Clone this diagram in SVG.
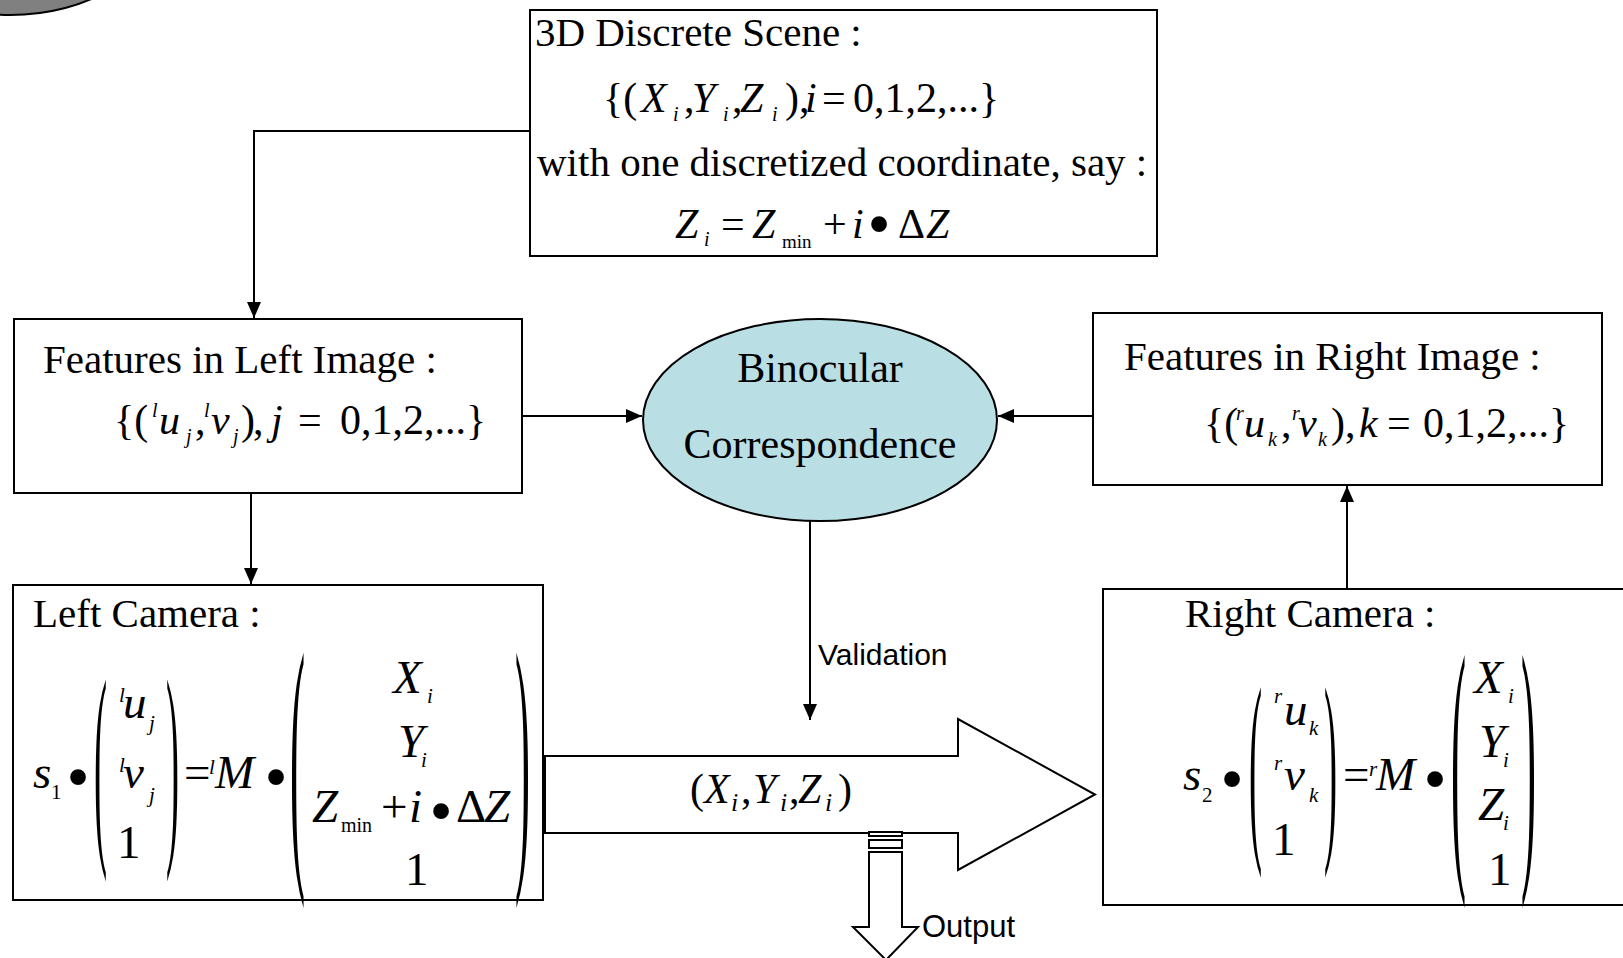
<svg xmlns="http://www.w3.org/2000/svg" width="1623" height="958" viewBox="0 0 1623 958">
<style>
.box{fill:#fff;stroke:#000;stroke-width:2}
.t{font-family:"Liberation Serif",serif;font-size:41px;fill:#000}
.f{font-family:"Liberation Serif",serif;font-size:42px;fill:#000}
.mx{font-family:"Liberation Serif",serif;font-size:47px;fill:#000}
.i{font-style:italic}
.s{font-size:20px}
.ss{font-size:21px}
.a{font-family:"Liberation Sans",sans-serif;fill:#000}
.bul{font-family:"Liberation Serif",serif;font-size:66px;text-anchor:middle}
.pl{font-family:"Liberation Serif",serif;font-size:28px}
.pb{font-family:"Liberation Serif",serif;font-size:30px}
.ln{fill:none;stroke:#000;stroke-width:2}
</style>
<defs>
<marker id="ah" markerUnits="userSpaceOnUse" markerWidth="16" markerHeight="14" refX="16" refY="7" orient="auto">
<path d="M0,0 L16,7 L0,14 Z" fill="#000"/>
</marker>
</defs>
<rect width="1623" height="958" fill="#fff"/>
<ellipse cx="10" cy="-85" rx="150" ry="100" fill="#808080" stroke="#000" stroke-width="2"/>

<g id="connectors">
<path class="ln" d="M530,131 H254 V318" marker-end="url(#ah)"/>
<path class="ln" d="M522,416 H642" marker-end="url(#ah)"/>
<path class="ln" d="M1093,416 H998" marker-end="url(#ah)"/>
<path class="ln" d="M251,493 V584" marker-end="url(#ah)"/>
<path class="ln" d="M1347,589 V486" marker-end="url(#ah)"/>
<path class="ln" d="M810,521 V720" marker-end="url(#ah)"/>
<text class="a" x="818" y="665" font-size="30">Validation</text>
</g>

<g id="scene">
<rect class="box" x="530" y="10" width="627" height="246"/>
<text class="t" x="535" y="46">3D Discrete Scene :</text>
<text class="f" y="112"><tspan x="603">{(</tspan><tspan x="641" class="i">X</tspan><tspan x="673" y="121" class="i s">i</tspan><tspan x="684" y="112">,</tspan><tspan x="692" class="i">Y</tspan><tspan x="723" y="121" class="i s">i</tspan><tspan x="732" y="112">,</tspan><tspan x="740" class="i">Z</tspan><tspan x="772" y="121" class="i s">i</tspan><tspan x="785" y="112">),</tspan><tspan x="805" class="i">i</tspan><tspan x="822">=</tspan><tspan x="853">0,1,2,...}</tspan></text>
<text class="t" x="537" y="176">with one discretized coordinate, say :</text>
<text class="f" y="238"><tspan x="675" class="i">Z</tspan><tspan x="704" y="246" class="i s">i</tspan><tspan x="721" y="238">=</tspan><tspan x="752" class="i">Z</tspan><tspan x="782" y="248" font-size="19">min</tspan><tspan x="823" y="238">+</tspan><tspan x="852" class="i">i</tspan><tspan x="898">Δ</tspan><tspan x="926" class="i">Z</tspan></text>
<text class="bul" x="879" y="246">•</text>
</g>

<g id="features-left">
<rect class="box" x="14" y="319" width="508" height="174"/>
<text class="t" x="43" y="373">Features in Left Image :</text>
<text class="f" y="434"><tspan x="114">{(</tspan><tspan x="152" y="417" class="i s">l</tspan><tspan x="159" y="434" class="i">u</tspan><tspan x="186" y="443" class="i s">j</tspan><tspan x="195" y="434">,</tspan><tspan x="204" y="417" class="i s">l</tspan><tspan x="211" y="434" class="i">v</tspan><tspan x="233" y="443" class="i s">j</tspan><tspan x="241" y="434">)</tspan><tspan x="253">,</tspan><tspan x="271" class="i">j</tspan><tspan x="298">=</tspan><tspan x="340">0,1,2,...}</tspan></text>
</g>

<g id="binocular">
<ellipse cx="820" cy="420" rx="177" ry="101" fill="#B9DFE4" stroke="#000" stroke-width="2"/>
<text class="f" x="820" y="382" text-anchor="middle">Binocular</text>
<text class="f" x="820" y="458" text-anchor="middle">Correspondence</text>
</g>

<g id="features-right">
<rect class="box" x="1093" y="313" width="509" height="172"/>
<text class="t" x="1124" y="370">Features in Right Image :</text>
<text class="f" y="437"><tspan x="1204">{(</tspan><tspan x="1236" y="420" class="i s">r</tspan><tspan x="1244" y="437" class="i">u</tspan><tspan x="1268" y="446" class="i s">k</tspan><tspan x="1281" y="437">,</tspan><tspan x="1292" y="420" class="i s">r</tspan><tspan x="1298" y="437" class="i">v</tspan><tspan x="1318" y="446" class="i s">k</tspan><tspan x="1331" y="437">),</tspan><tspan x="1359" class="i">k</tspan><tspan x="1387">=</tspan><tspan x="1423">0,1,2,...}</tspan></text>
</g>

<g id="left-camera">
<rect class="box" x="13" y="585" width="530" height="315"/>
<text class="t" x="33" y="627">Left Camera :</text>
<text class="mx"><tspan x="33" y="788" class="i">s</tspan><tspan x="51" y="799" class="ss">1</tspan></text>
<text class="bul" x="78" y="799">•</text>
<text class="pl" transform="translate(94,833.6) scale(1.4,7.95)">(</text>
<text class="mx"><tspan x="119" y="702" class="i ss">l</tspan><tspan x="123" y="718" class="i">u</tspan><tspan x="149" y="730" class="i ss">j</tspan></text>
<text class="mx"><tspan x="119" y="772" class="i ss">l</tspan><tspan x="123" y="788" class="i">v</tspan><tspan x="149" y="802" class="i ss">j</tspan></text>
<text class="mx" x="117" y="858">1</text>
<text class="pl" transform="translate(166,833.6) scale(1.4,7.95)">)</text>
<text class="mx"><tspan x="184" y="788">=</tspan><tspan x="209" y="774" class="i ss">l</tspan><tspan x="215" y="788" class="i">M</tspan></text>
<text class="bul" x="276" y="799">•</text>
<text class="pb" transform="translate(290,848) scale(1.5,9.38)">(</text>
<text class="mx"><tspan x="393" y="693" class="i">X</tspan><tspan x="427" y="703" class="i ss">i</tspan></text>
<text class="mx"><tspan x="398" y="757" class="i">Y</tspan><tspan x="421" y="767" class="i ss">i</tspan></text>
<text class="mx"><tspan x="312" y="822" class="i">Z</tspan><tspan x="341" y="832" font-size="20">min</tspan><tspan x="381" y="822">+</tspan><tspan x="409" class="i">i</tspan><tspan x="456">Δ</tspan><tspan x="484" class="i">Z</tspan></text>
<text class="bul" x="441" y="833">•</text>
<text class="mx" x="405" y="885">1</text>
<text class="pb" transform="translate(515,848) scale(1.5,9.38)">)</text>
</g>

<g id="right-camera">
<rect class="box" x="1103" y="589" width="530" height="316"/>
<text class="t" x="1185" y="627">Right Camera :</text>
<text class="mx"><tspan x="1183" y="790" class="i">s</tspan><tspan x="1202" y="802" class="ss">2</tspan></text>
<text class="bul" x="1232" y="801">•</text>
<text class="pl" transform="translate(1249,832.8) scale(1.4,7.53)">(</text>
<text class="mx"><tspan x="1274" y="703" class="i ss">r</tspan><tspan x="1284" y="725" class="i">u</tspan><tspan x="1309" y="735" class="i ss">k</tspan></text>
<text class="mx"><tspan x="1274" y="770" class="i ss">r</tspan><tspan x="1284" y="790" class="i">v</tspan><tspan x="1309" y="802" class="i ss">k</tspan></text>
<text class="mx" x="1272" y="855">1</text>
<text class="pl" transform="translate(1324,832.8) scale(1.4,7.53)">)</text>
<text class="mx"><tspan x="1343" y="790">=</tspan><tspan x="1369" y="776" class="i ss">r</tspan><tspan x="1376" y="790" class="i">M</tspan></text>
<text class="bul" x="1435" y="801">•</text>
<text class="pb" transform="translate(1451,848.5) scale(1.5,9.3)">(</text>
<text class="mx"><tspan x="1474" y="693" class="i">X</tspan><tspan x="1508" y="703" class="i ss">i</tspan></text>
<text class="mx"><tspan x="1479" y="757" class="i">Y</tspan><tspan x="1503" y="767" class="i ss">i</tspan></text>
<text class="mx"><tspan x="1478" y="820" class="i">Z</tspan><tspan x="1503" y="830" class="i ss">i</tspan></text>
<text class="mx" x="1488" y="885">1</text>
<text class="pb" transform="translate(1521,848.5) scale(1.5,9.3)">)</text>
</g>

<g id="point-arrow">
<path d="M545,756 H958 V719 L1095,794.5 L958,870 V833 H545 Z" fill="#fff" stroke="#000" stroke-width="2"/>
<text class="f" y="803"><tspan x="690">(</tspan><tspan x="704" class="i">X</tspan><tspan x="731" y="811" font-size="26" class="i">i</tspan><tspan x="741" y="803">,</tspan><tspan x="753" class="i">Y</tspan><tspan x="780" y="811" font-size="26" class="i">i</tspan><tspan x="789" y="803">,</tspan><tspan x="798" class="i">Z</tspan><tspan x="825" y="811" font-size="26" class="i">i</tspan><tspan x="838" y="803">)</tspan></text>
</g>

<g id="output-arrow">
<rect x="869" y="832" width="33" height="4" fill="#fff" stroke="#000" stroke-width="2"/>
<rect x="869" y="840" width="33" height="8" fill="#fff" stroke="#000" stroke-width="2"/>
<path d="M869,852 H902 V927 H918 L886,960 L853,927 H869 Z" fill="#fff" stroke="#000" stroke-width="2"/>
<text class="a" x="922" y="937" font-size="31">Output</text>
</g>
</svg>
